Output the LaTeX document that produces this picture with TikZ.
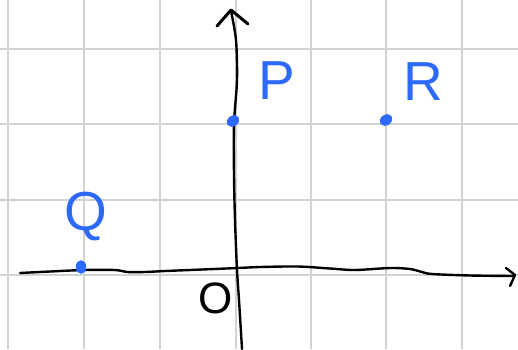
\documentclass[tikz,border=0pt]{standalone}
\usepackage{fontspec}
\setmainfont{Liberation Sans}
\usetikzlibrary{shapes.geometric}
\definecolor{penblue}{RGB}{45,105,250}
\definecolor{gridgray}{RGB}{210,210,210}
\begin{document}
\begin{tikzpicture}[x=1pt,y=-1pt,
  gridline/.style={draw=gridgray,line width=2pt},
  axis/.style={draw=black,line width=2.4pt,line cap=round,line join=round},
  dot/.style={ellipse,draw=penblue,fill=penblue,line width=1.5pt,minimum width=12pt,minimum height=9pt,inner sep=0pt,rotate=35},
  lbl/.style={text=penblue,font=\fontsize{55}{55}\selectfont,inner sep=0pt},
  olbl/.style={text=black,font=\fontsize{44}{44}\selectfont,inner sep=0pt}]
\useasboundingbox (0,0) rectangle (518,349);
\fill[white] (0,0) rectangle (518,349);
% grid
\foreach \gx in {8,84,160,236,311,386,462} \draw[gridline] (\gx,0) -- (\gx,349);
\foreach \gy in {49,124,200,275} \draw[gridline] (0,\gy) -- (518,\gy);
% axes
\draw[axis] plot[smooth] coordinates {(20,273) (50,271.5) (84,270) (115,270) (127,272) (145,272) (165,271) (190,270) (238,268) (260,267) (298,266.5) (330,268.5) (355,270) (390,268) (410,269) (422,272) (432,274) (470,275.5) (514,276)};
\draw[axis] (506,268) -- (515,275) -- (510,286);
\draw[axis] plot[smooth] coordinates {(242,349) (239,300) (237,270) (235,220) (234,175) (234,124) (237,80) (236,40) (231,11)};
\draw[axis,line width=3pt] (217,26) -- (231,10) -- (248,24);
% points
\node[dot] (p) at (233,121) {};
\node[dot] (r) at (386,120) {};
\node[dot,rotate=55] (q) at (81,267) {};
% labels
\node[lbl] (pl) at (277,81) {P};
\node[lbl] (rl) at (423,82) {R};
\node[lbl] (ql) at (86,216) {Q};
\node[olbl] (ol) at (216,298) {O};
\end{tikzpicture}
\end{document}
